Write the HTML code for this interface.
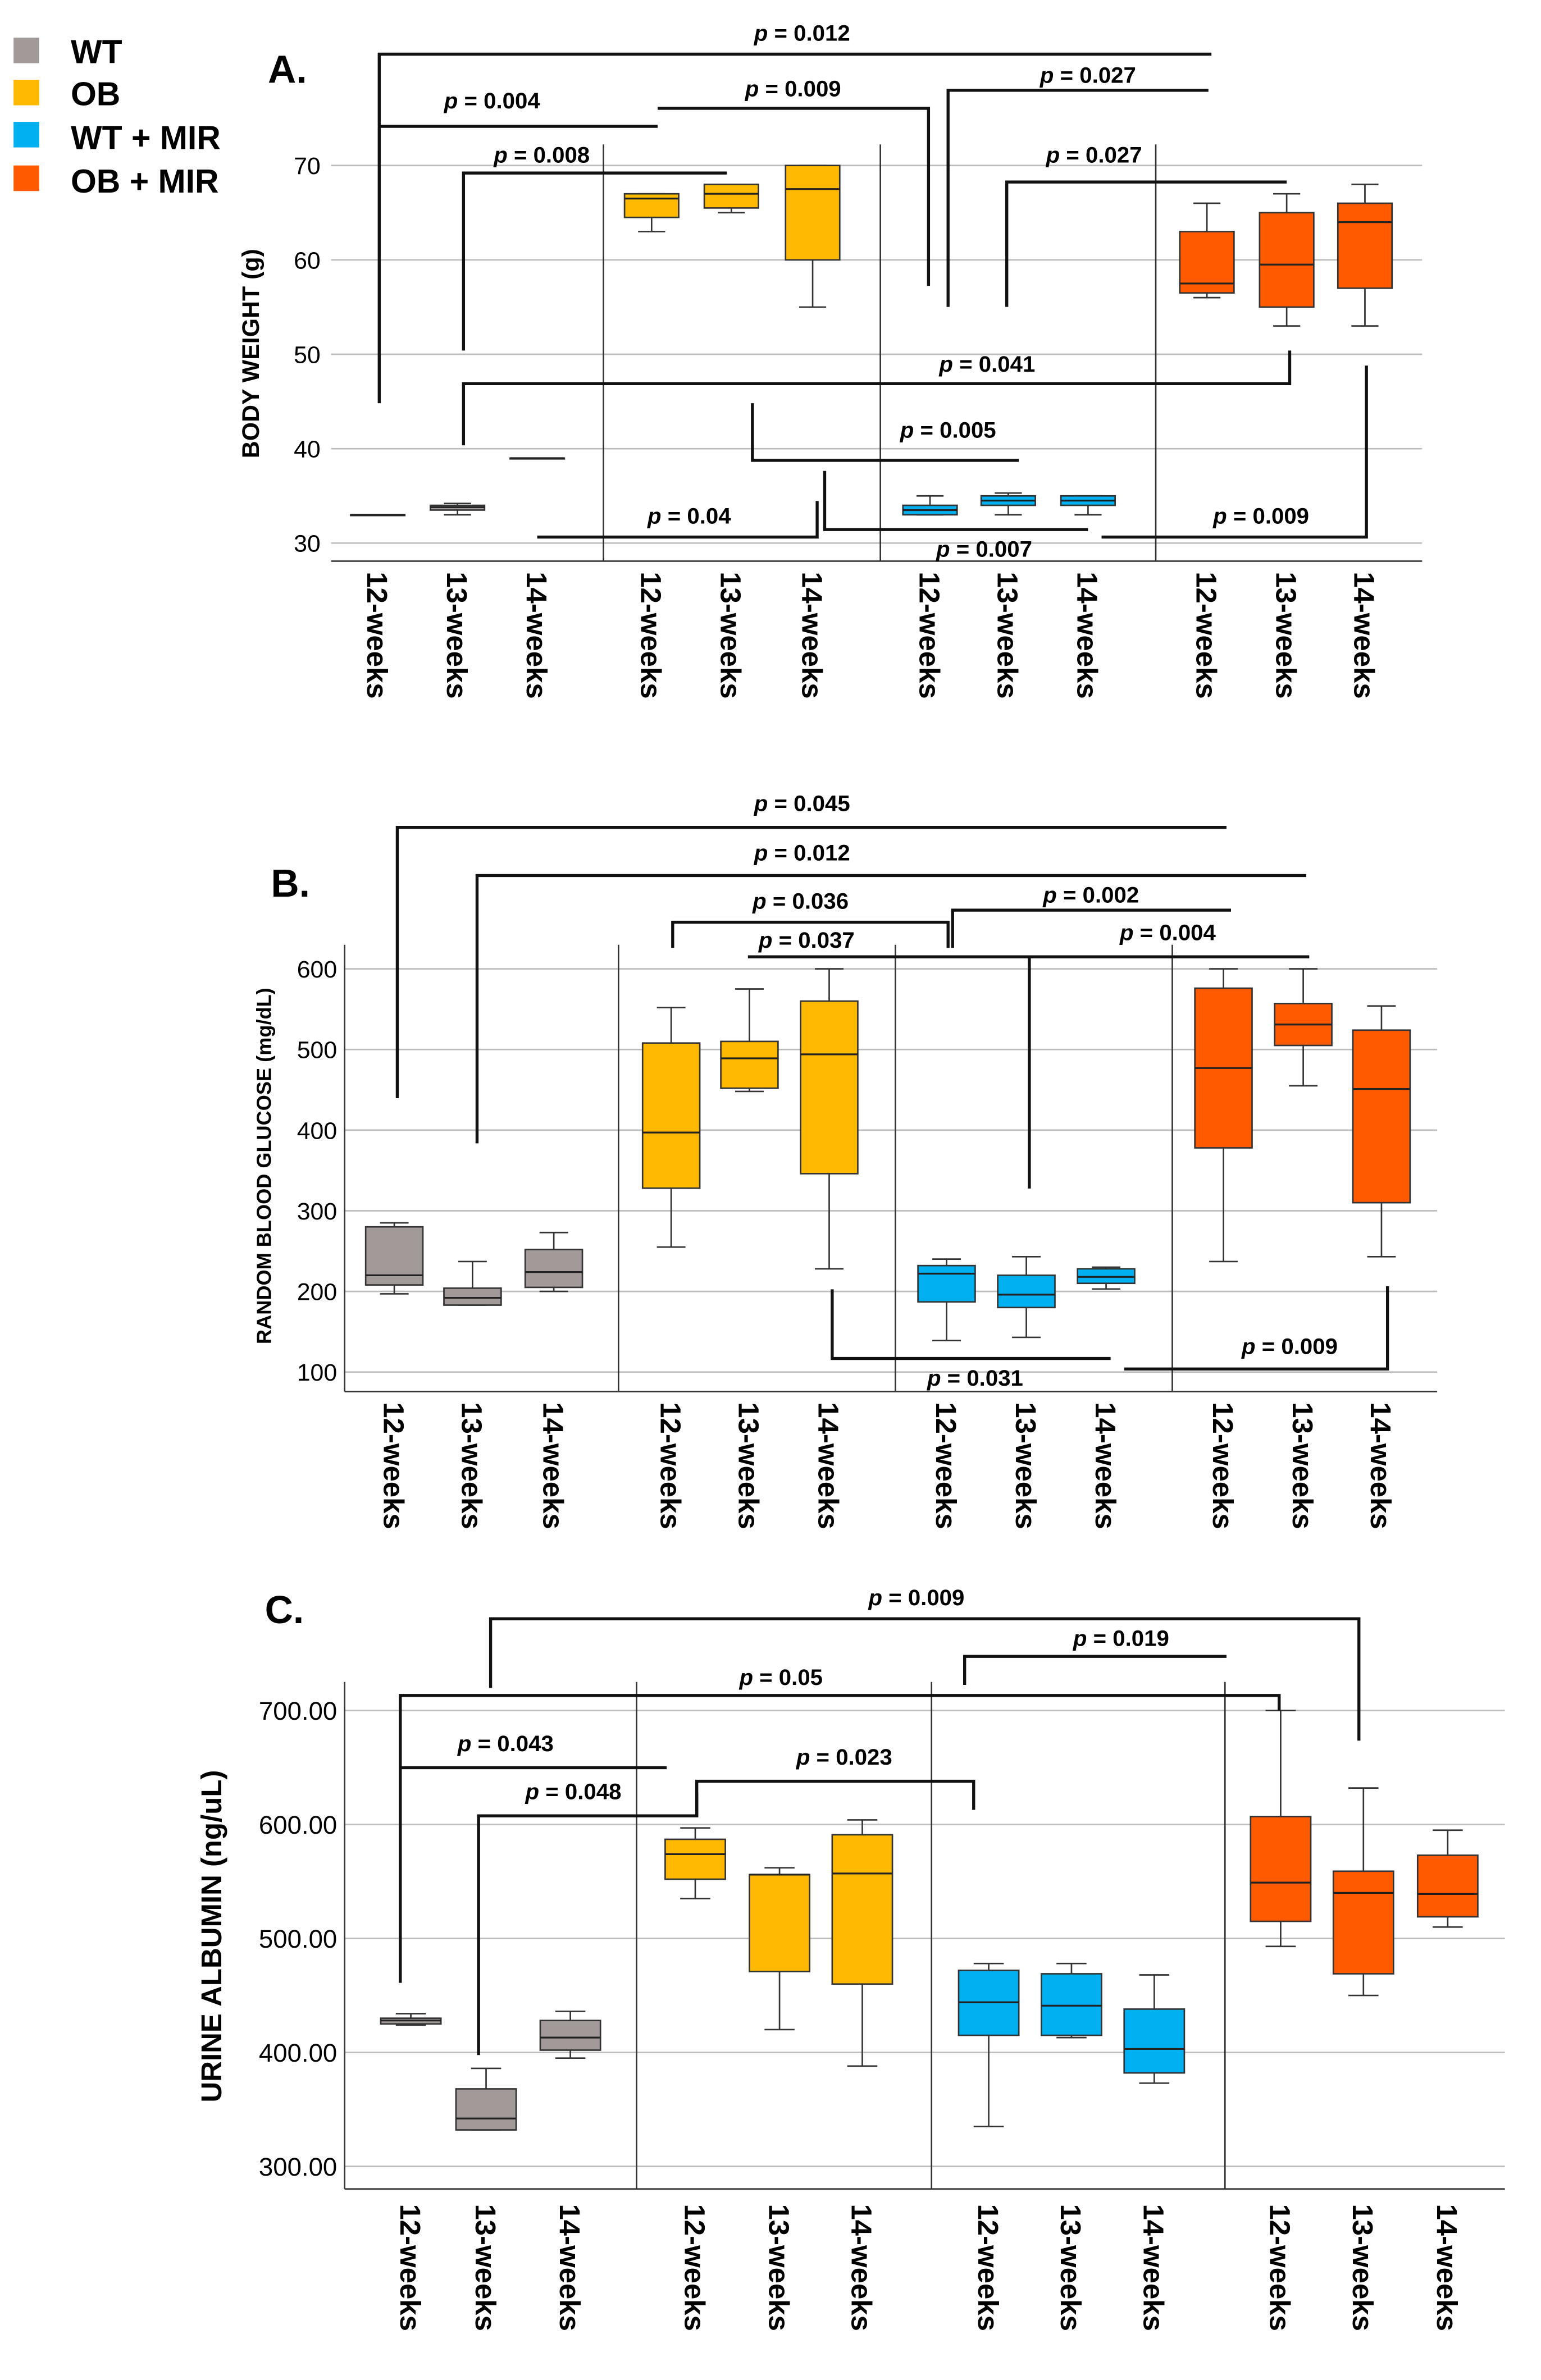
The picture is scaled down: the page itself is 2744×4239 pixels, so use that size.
<!DOCTYPE html>
<html><head><meta charset="utf-8">
<style>
html,body{margin:0;padding:0;background:#fff;}
svg{display:block;font-family:"Liberation Sans",Arial,sans-serif;}
</style></head>
<body>
<svg id="fig" width="2744" height="4239" viewBox="0 0 1024 1582" preserveAspectRatio="none" xmlns="http://www.w3.org/2000/svg">
<g id="legend">
<rect x="9" y="25" width="17" height="17" fill="#a19a98"/>
<text x="47" y="42" font-size="22" font-weight="bold">WT</text>
<rect x="9" y="53" width="17" height="17" fill="#ffb900"/>
<text x="47" y="70" font-size="22" font-weight="bold">OB</text>
<rect x="9" y="81" width="17" height="17" fill="#00b0f0"/>
<text x="47" y="99" font-size="22" font-weight="bold">WT + MIR</text>
<rect x="9" y="110" width="17" height="17" fill="#ff5a00"/>
<text x="47" y="128" font-size="22" font-weight="bold">OB + MIR</text>
</g>
</svg>
<script>
const groups = ["WT","OB","WT + MIR","OB + MIR"];
const colors = ["#a19a98","#ffb900","#00b0f0","#ff5a00"];
const weeks = ["12-weeks","13-weeks","14-weeks"];
// [whiskerLow, q1, median, q3, whiskerHigh] per group per week
const bwWT = [[33,33,33,33,33],[33,33.5,33.8,34,34.2],[39,39,39,39,39]];
const bwOB = [[63,64.5,66.5,67,67],[65,65.5,67,68,68],[55,60,67.5,70,70]];
const bwWTM = [[33,33,33.5,34,35],[33,34,34.5,35,35.3],[33,34,34.5,35,35]];
const bwOBM = [[56,56.5,57.5,63,66],[53,55,59.5,65,67],[53,57,64,66,68]];
const bwTicks = [30,40,50,60,70];
const glWT = [[197,208,220,280,285],[183,183,192,204,237],[200,205,224,252,273]];
const glOB = [[255,328,397,508,552],[448,452,489,510,575],[228,346,494,560,600]];
const glWTM = [[139,187,222,232,240],[143,180,196,220,243],[203,210,218,228,230]];
const glOBM = [[237,378,477,576,600],[455,505,531,557,600],[243,310,451,524,554]];
const glTicks = [100,200,300,400,500,600];
const uaWT = [[424,425,428,430,434],[332,332,342,368,386],[395,402,413,428,436]];
const uaOB = [[535,552,574,587,597],[420,471,556,556,562],[388,460,557,591,604]];
const uaWTM = [[335,415,444,472,478],[413,415,441,469,478],[373,382,403,438,468]];
const uaOBM = [[493,515,549,607,700],[450,469,540,559,632],[510,519,539,573,595]];
const uaTicks = [300,400,500,600,700];

const NS="http://www.w3.org/2000/svg";
const svg=document.getElementById('fig');
function mk(tag,attrs,parent){const e=document.createElementNS(NS,tag);for(const k in attrs)e.setAttribute(k,attrs[k]);(parent||svg).appendChild(e);return e;}

const panels=[
 {key:"a",letter:"A.",lx:178,ly:55,data:[bwWT,bwOB,bwWTM,bwOBM],ticks:bwTicks,tickFmt:v=>String(v),
  v0:30,y0:361,v1:70,y1:110,gx0:220,gx1:945,top:96,bottom:373,axisLeft:false,dividers:[401,585,768],
  centers:[[251,304,357],[433,486,540],[618,670,723],[802,855,907]],bw:36,tickX:213,tickFs:16,
  title:"BODY WEIGHT (g)",tx:172,ty:235,tfs:16,labY:380,
  brackets:[
   ["M252,268V36H805",533,27,"0.012"],["M252,84H437",327,72,"0.004"],["M437,72H617V190",527,64,"0.009"],
   ["M630,204V60H803",723,55,"0.027"],["M308,233V115H483",360,108,"0.008"],["M669,204V121H855",727,108,"0.027"],
   ["M308,296V255H857V233",656,247,"0.041"],["M500,268V306H677",630,291,"0.005"],["M357,357H543V333",458,348,"0.04"],
   ["M548,313V352H723",654,370,"0.007"],["M732,357H908V243",838,348,"0.009"]]},
 {key:"b",letter:"B.",lx:180,ly:596,data:[glWT,glOB,glWTM,glOBM],ticks:glTicks,tickFmt:v=>String(v),
  v0:100,y0:912,v1:600,y1:644,gx0:229,gx1:955,top:628,bottom:925,axisLeft:true,dividers:[411,595,779],
  centers:[[262,314,368],[446,498,551],[629,682,735],[813,866,918]],bw:38,tickX:224,tickFs:16,
  title:"RANDOM BLOOD GLUCOSE (mg/dL)",tx:180,ty:775,tfs:13.5,labY:932,
  brackets:[
   ["M264,730V550H815",533,539,"0.045"],["M317,760V582H868",533,572,"0.012"],["M447,630V613H630V630",532,604,"0.036"],
   ["M633,630V605H818",725,600,"0.002"],["M497,636H870",536,630,"0.037"],["M684,636V790",776,625,"0.004"],
   ["M553,857V903H738",648,921,"0.031"],["M747,910H922V855",857,900,"0.009"]]},
 {key:"c",letter:"C.",lx:176,ly:1079,data:[uaWT,uaOB,uaWTM,uaOBM],ticks:uaTicks,tickFmt:v=>v.toFixed(2),
  v0:300,y0:1440,v1:700,y1:1137,gx0:229,gx1:1000,top:1118,bottom:1455,axisLeft:true,dividers:[423,619,814],
  centers:[[273,323,379],[462,518,573],[657,712,767],[851,906,962]],bw:40,tickX:224,tickFs:17,
  title:"URINE ALBUMIN (ng/uL)",tx:147,ty:1287,tfs:19,labY:1465,
  brackets:[
   ["M326,1122V1076H903V1157",609,1067,"0.009"],["M641,1120V1101H815",745,1094,"0.019"],
   ["M266,1318V1127H850V1137",519,1120,"0.05"],["M266,1175H443",336,1164,"0.043"],
   ["M318,1366V1207H463V1192",381,1196,"0.048"],["M463,1207V1184H647V1203",561,1173,"0.023"]]}
];

panels.forEach(p=>{
  const g=mk('g',{});
  
  
  const y=v=>p.y0+(v-p.v0)*(p.y1-p.y0)/(p.v1-p.v0);
  const lt=mk('text',{x:p.lx,y:p.ly,'font-size':26,'font-weight':'bold'},g);lt.textContent=p.letter;
  
  
  p.ticks.forEach(t=>{
    const gl=mk('line',{x1:p.gx0,x2:p.gx1,y1:y(t),y2:y(t),stroke:'#bdbdbd','stroke-width':1},g);
    
    
    const tl=mk('text',{x:p.tickX,y:y(t)+p.tickFs*0.36,'font-size':p.tickFs,'text-anchor':'end'},g);
    tl.textContent=p.tickFmt(t);
    
    
  });
  if(p.axisLeft){const al=mk('line',{x1:p.gx0,x2:p.gx0,y1:p.top,y2:p.bottom,stroke:'#333'},g);
    }
  p.dividers.forEach(d=>{const dl=mk('line',{x1:d,x2:d,y1:p.top,y2:p.bottom,stroke:'#333'},g);
    });
  const bl=mk('line',{x1:p.gx0,x2:p.gx1,y1:p.bottom,y2:p.bottom,stroke:'#333'},g);
  
  const tt=mk('text',{x:p.tx,y:p.ty,'font-size':p.tfs,'font-weight':'bold','text-anchor':'middle',transform:`rotate(-90 ${p.tx} ${p.ty})`},g);
  tt.textContent=p.title;
  
  
  p.data.forEach((grp,gi)=>{
    grp.forEach((s,wi)=>{
      const cx=p.centers[gi][wi],hw=p.bw/2;
      const bg=mk('g',{},g);
      
      
      mk('line',{x1:cx,x2:cx,y1:y(s[0]),y2:y(s[1]),stroke:'#333'},bg);
      mk('line',{x1:cx,x2:cx,y1:y(s[3]),y2:y(s[4]),stroke:'#333'},bg);
      mk('line',{x1:cx-hw/2,x2:cx+hw/2,y1:y(s[0]),y2:y(s[0]),stroke:'#333'},bg);
      mk('line',{x1:cx-hw/2,x2:cx+hw/2,y1:y(s[4]),y2:y(s[4]),stroke:'#333'},bg);
      mk('rect',{x:cx-hw,y:y(s[3]),width:p.bw,height:Math.max(0.5,y(s[1])-y(s[3])),fill:colors[gi],stroke:'#333','stroke-width':1},bg);
      mk('line',{x1:cx-hw,x2:cx+hw,y1:y(s[2]),y2:y(s[2]),stroke:'#222','stroke-width':1.2},bg);
      const xl=mk('text',{x:cx-7,y:p.labY,'font-size':19,'font-weight':'bold',transform:`rotate(90 ${cx-7} ${p.labY})`},g);
      xl.textContent=weeks[wi];
      
      
    });
  });
  p.brackets.forEach(b=>{
    const bp=mk('path',{d:b[0],fill:'none',stroke:'#111','stroke-width':2},g);
    
    
    const bt=mk('text',{x:b[1],y:b[2],'font-size':15,'font-weight':'bold','text-anchor':'middle'},g);
    bt.innerHTML='<tspan font-style="italic">p</tspan> = '+b[3];
    
    
  });
});
</script>
</body></html>
